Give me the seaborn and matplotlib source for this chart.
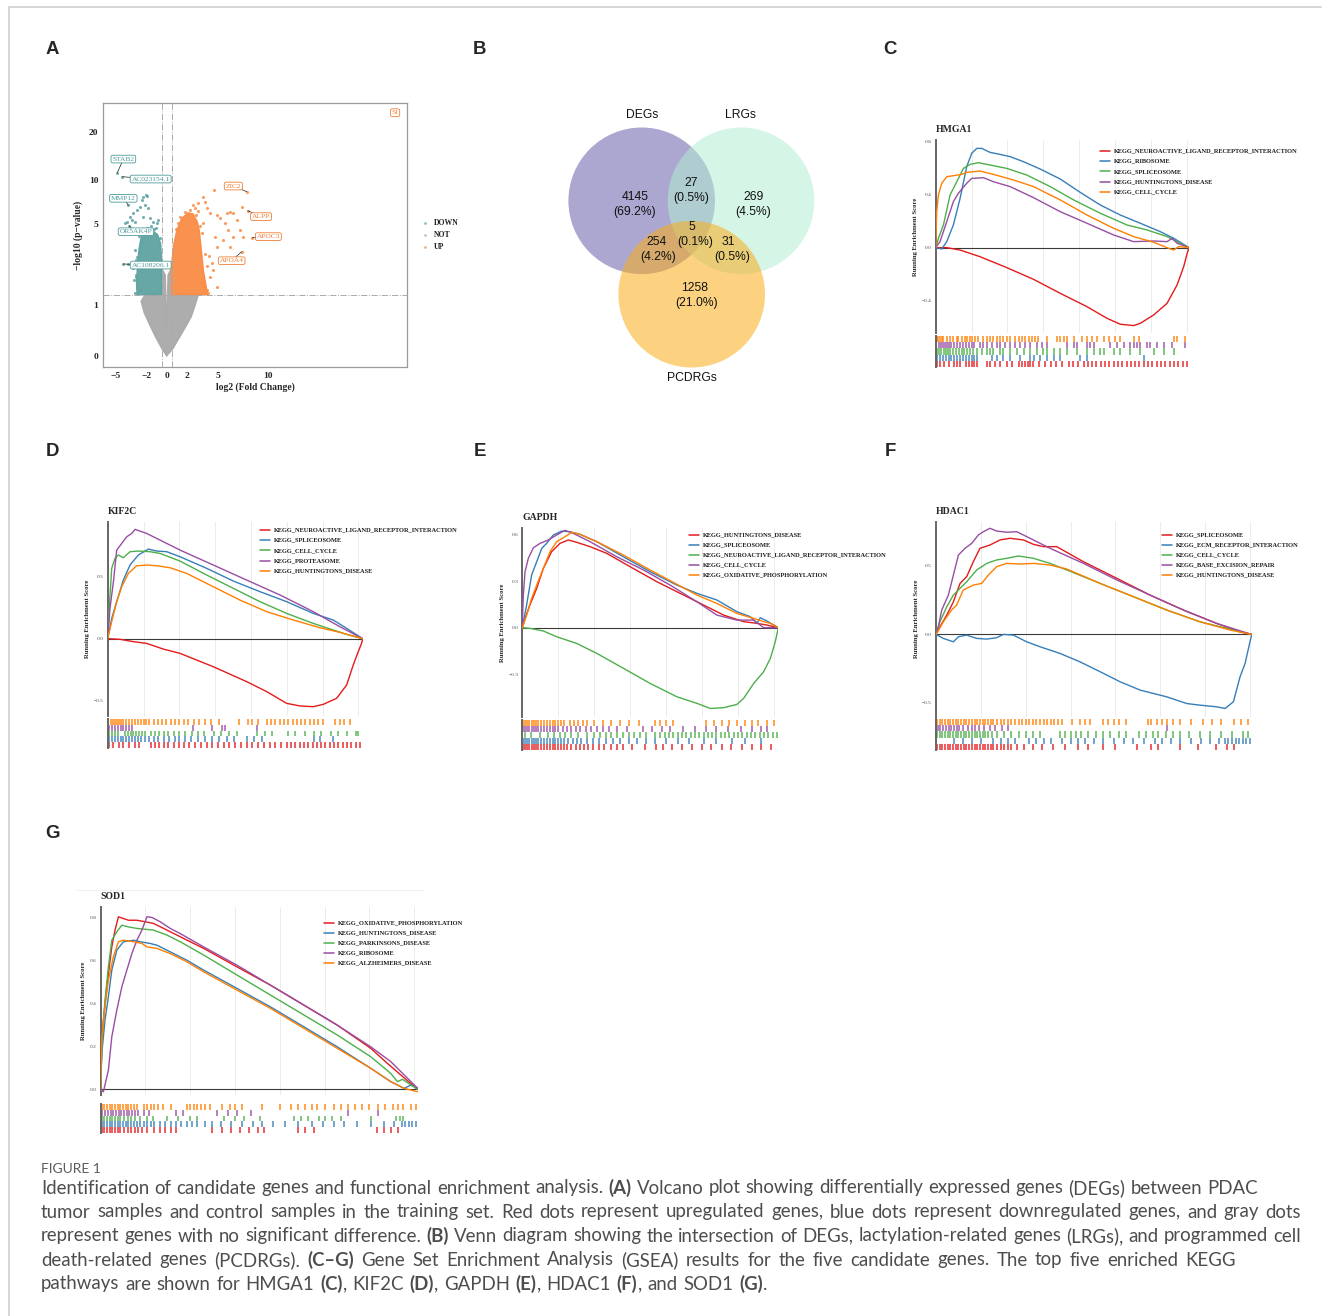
import numpy as np
import pandas as pd
import matplotlib
matplotlib.use("Agg")
import matplotlib.pyplot as plt
import seaborn as sns
from matplotlib.patches import Circle
from matplotlib.lines import Line2D
from matplotlib.ticker import NullLocator

# ---------------------------------------------------------------- data
# Panel A: volcano plot (log2FC, -log10 p)
VOLC_NOT_CLOUD_X = [0.0, 0.6, 1.3, 1.9, 2.4, 2.8, 3.1, 0.5, 0.5, 0.15, 0.08, 0.03, -0.03, -0.08, -0.15,
                    -0.5, -0.5, -2.1, -2.5, -2.2, -1.6, -1.1, -0.45, 0.0]
VOLC_NOT_CLOUD_Y = [0.0, 0.1, 0.3, 0.5, 0.7, 1.0, 1.3, 1.3, 2.3, 2.0, 1.0, 0.45, 0.45, 1.0, 2.0,
                    2.3, 1.3, 1.3, 1.1, 0.8, 0.5, 0.3, 0.1, 0.0]
VOLC_DOWN_CLOUD_X = [-0.5, -2.9, -2.95, -2.85, -2.7, -2.5, -2.1, -1.4, -0.9, -0.6, -0.5]
VOLC_DOWN_CLOUD_Y = [1.3, 1.3, 1.7, 2.5, 3.3, 4.0, 4.4, 4.5, 4.2, 3.6, 2.5]
VOLC_UP_CLOUD_X = [0.5, 0.5, 0.7, 1.0, 1.5, 2.1, 2.6, 3.0, 3.2, 3.4, 3.6, 3.9, 4.0]
VOLC_UP_CLOUD_Y = [1.3, 2.5, 3.5, 4.5, 5.5, 6.0, 5.9, 5.2, 4.5, 3.2, 2.2, 1.5, 1.3]
VOLC_DOWN_X = [-4.85, -4.36, -2.30, -2.03, -1.90, -2.46, -2.62, -2.13, -1.80, -2.95, -3.28, -3.77, -3.61,
               -3.44, -3.11, -2.30, -1.64, -1.31, -0.98, -0.82, -3.93, -3.67, -4.10, -3.34, -4.26, -3.77,
               -3.11, -2.95, -3.02, -2.89, -2.62, -3.08, -3.0, -3.2, -2.6, -1.9, -1.2, -0.7, -3.3, -2.4,
               -2.75, -1.55, -1.05, -3.05]
VOLC_DOWN_Y = [11.12, 10.48, 7.74, 7.94, 7.82, 7.35, 6.56, 6.80, 6.46, 6.29, 5.96, 6.80, 5.66,
               5.36, 5.22, 5.66, 5.51, 5.22, 5.08, 5.36, 5.22, 4.86, 5.08, 4.55, 2.49, 2.47,
               3.22, 2.86, 1.94, 1.56, 1.45, 1.34, 2.0, 1.8, 4.3, 4.7, 4.6, 4.0, 2.3, 3.7,
               4.1, 4.9, 4.7, 2.7]
VOLC_UP_X = [4.66, 3.61, 3.77, 3.93, 3.11, 2.62, 4.26, 4.92, 5.25, 5.90, 6.23, 6.56, 6.89, 7.38, 7.87,
             7.97, 8.43, 7.38, 6.07, 6.56, 5.57, 4.92, 5.25, 4.59, 4.26, 4.92, 3.93, 4.43, 5.74, 3.61,
             6.23, 7.21, 7.54, 4.75, 3.44, 4.10, 0.9, 1.3, 2.3, 2.9, 3.5, 3.8, 4.0, 3.7, 1.8, 2.8,
             1.1, 3.3, 4.2, 3.1]
VOLC_UP_Y = [8.57, 7.74, 7.17, 6.46, 6.98, 6.80, 5.96, 5.81, 5.51, 5.96, 6.13, 5.96, 5.36, 6.63, 8.36,
             6.22, 4.00, 3.13, 4.55, 4.07, 3.84, 3.42, 2.69, 2.22, 1.94, 1.56, 1.45, 2.52, 5.08, 5.08,
             3.42, 4.55, 4.07, 4.07, 1.68, 1.34, 4.6, 5.6, 6.3, 5.8, 4.3, 3.0, 2.4, 1.6, 6.1, 6.5,
             5.1, 4.9, 2.9, 6.2]
LAB_GENES = ["STAB2", "AC023154.1", "MMP12", "OR5AK4P", "AC108206.1", "ZIC2", "ALPP", "APOC3", "APOA4", "SI"]
LAB_GROUP = ["DOWN", "DOWN", "DOWN", "DOWN", "DOWN", "UP", "UP", "UP", "UP", "UP"]
LAB_PT_X = [-4.85, -4.36, -3.77, -3.67, -4.26, 7.87, 7.97, 8.43, 7.38, 22.46]
LAB_PT_Y = [11.12, 10.48, 6.80, 4.86, 2.49, 8.36, 6.22, 4.00, 3.13, 26.5]
LAB_TX = [-4.26, -1.57, -4.26, -3.02, -1.57, 6.56, 9.28, 10.0, 6.39, 22.46]
LAB_TY = [13.6, 10.12, 7.55, 4.42, 2.44, 9.11, 5.66, 4.07, 2.65, 26.5]
VOLC_XTICKS = [-5, -2, 0, 2, 5, 10]
VOLC_YTICKS = [0, 1, 5, 10, 20]
FC_CUT = 0.5
P_CUT = 1.301

# Panel B: Venn diagram
VENN_SETS = ["DEGs", "LRGs", "PCDRGs"]
VENN_REGIONS = ["DEGs", "LRGs", "PCDRGs", "DEGs&LRGs", "DEGs&PCDRGs", "LRGs&PCDRGs", "all"]
VENN_COUNTS = [4145, 269, 1258, 27, 254, 31, 5]

# Panels C-G: GSEA running enrichment scores (rank in thousands)
HMGA1_PATHS = ["KEGG_NEUROACTIVE_LIGAND_RECEPTOR_INTERACTION", "KEGG_RIBOSOME", "KEGG_SPLICEOSOME",
               "KEGG_HUNTINGTONS_DISEASE", "KEGG_CELL_CYCLE"]
HMGA1_RANK = [
    [0, 0.77, 1.70, 3.09, 4.95, 6.82, 8.68, 10.54, 11.93, 12.86, 13.79, 14.26, 15.19, 16.12, 16.82, 17.28, 17.52, 17.65],
    [0, 0.42, 0.77, 1.23, 1.70, 2.16, 2.51, 2.86, 3.21, 3.79, 4.49, 5.19, 6.12, 7.28, 8.68, 10.07, 11.47, 12.86, 14.26, 15.65, 16.59, 17.65],
    [0, 0.19, 0.54, 1.0, 1.47, 1.93, 2.40, 2.98, 3.79, 4.95, 6.35, 7.98, 9.61, 11.47, 13.33, 14.72, 16.12, 17.65],
    [0, 0.30, 0.77, 1.23, 1.58, 2.16, 2.51, 3.33, 4.02, 5.19, 6.82, 8.68, 10.54, 12.40, 13.79, 15.19, 16.12, 16.47, 16.82, 17.65],
    [0, 0.07, 0.19, 0.42, 0.77, 1.23, 1.81, 2.16, 3.09, 4.02, 5.42, 6.82, 8.68, 10.54, 12.40, 13.79, 15.19, 16.12, 16.58, 16.93, 17.65]]
HMGA1_ES = [
    [0, 0, -0.018, -0.068, -0.15, -0.238, -0.343, -0.443, -0.53, -0.575, -0.585, -0.568, -0.505, -0.418, -0.28, -0.143, -0.043, 0],
    [0, -0.01, 0.045, 0.17, 0.37, 0.608, 0.708, 0.745, 0.745, 0.715, 0.70, 0.683, 0.645, 0.59, 0.515, 0.415, 0.32, 0.245, 0.183, 0.12, 0.07, 0],
    [0, 0.07, 0.17, 0.395, 0.495, 0.595, 0.625, 0.638, 0.62, 0.595, 0.545, 0.458, 0.358, 0.258, 0.17, 0.133, 0.083, 0],
    [0, 0.045, 0.195, 0.345, 0.408, 0.483, 0.52, 0.525, 0.495, 0.458, 0.375, 0.27, 0.183, 0.095, 0.045, 0.05, 0.045, 0.07, 0.033, 0],
    [0, 0.27, 0.395, 0.483, 0.533, 0.54, 0.55, 0.565, 0.575, 0.55, 0.508, 0.458, 0.358, 0.245, 0.145, 0.083, 0.04, 0, -0.018, 0.008, 0]]
HMGA1_HITS = [
    [0.1, 0.3, 0.6, 0.9, 1.3, 1.5, 1.7, 2.1, 2.3, 2.5, 2.7, 2.9, 3.56, 3.79, 4.14, 4.49, 4.95, 5.31, 5.8, 6.0, 6.2, 6.4,
     6.6, 6.8, 7.2, 7.6, 8.0, 8.4, 8.8, 9.3, 9.6, 9.9, 10.3, 10.6, 10.9, 11.2, 11.5, 11.8, 12.1, 12.4, 12.7, 13.0, 13.3,
     13.6, 13.9, 14.2, 14.5, 14.8, 15.1, 15.4, 15.7, 16.0, 16.3, 16.6, 16.9, 17.2, 17.5],
    [0.1, 0.3, 0.5, 0.7, 0.9, 1.1, 1.3, 1.5, 1.7, 1.9, 2.1, 2.3, 2.5, 2.7, 2.9, 3.91, 4.26, 4.72, 5.19, 5.89, 6.58, 6.82,
     7.28, 7.75, 8.21, 8.68, 10.07, 10.54, 14.49],
    [0.1, 0.25, 0.4, 0.55, 0.7, 0.85, 1.0, 1.2, 1.4, 1.6, 1.8, 2.0, 2.2, 2.4, 2.6, 2.86, 3.21, 3.56, 3.79, 4.02, 4.49,
     4.72, 5.19, 5.66, 6.12, 6.58, 7.05, 7.51, 7.75, 8.21, 8.68, 9.14, 9.84, 10.54, 11.0, 11.47, 11.7, 12.4, 12.86,
     13.56, 14.26, 15.19, 15.89, 16.58],
    [0.05, 0.2, 0.35, 0.5, 0.65, 0.8, 0.95, 1.1, 1.3, 1.5, 1.7, 1.9, 2.1, 2.3, 2.5, 2.7, 3.09, 3.33, 3.56, 3.91, 4.26,
     4.49, 4.84, 5.19, 5.54, 5.89, 6.23, 6.58, 7.05, 7.4, 7.75, 9.14, 9.61, 9.84, 10.54, 10.77, 11.0, 12.16, 12.63,
     13.1, 13.56, 13.79, 14.03, 14.26, 14.72, 14.96, 15.42, 15.89, 16.47, 17.4],
    [0.07, 0.19, 0.30, 0.42, 0.53, 0.77, 1.0, 1.23, 1.47, 1.58, 1.81, 2.05, 2.16, 2.4, 2.51, 2.74, 2.98, 3.33, 3.56,
     3.79, 4.02, 4.26, 4.49, 4.72, 4.95, 5.19, 5.54, 5.77, 6.0, 6.23, 6.47, 6.7, 6.93, 7.16, 7.75, 8.44, 8.68, 8.91,
     9.14, 9.61, 10.19, 10.54, 10.89, 11.23, 11.7, 12.05, 12.51, 12.86, 13.79, 14.14, 16.58, 16.82, 17.4]]

KIF2C_PATHS = ["KEGG_NEUROACTIVE_LIGAND_RECEPTOR_INTERACTION", "KEGG_SPLICEOSOME", "KEGG_CELL_CYCLE",
               "KEGG_PROTEASOME", "KEGG_HUNTINGTONS_DISEASE"]
KIF2C_RANK = [
    [0, 0.86, 1.79, 2.72, 3.88, 5.05, 7.37, 9.70, 11.10, 12.49, 13.42, 14.35, 15.05, 15.98, 16.68, 17.14, 17.49, 17.72, 17.8],
    [0, 0.28, 0.63, 1.09, 1.56, 2.14, 2.84, 3.42, 4.12, 5.05, 6.91, 8.77, 10.63, 12.49, 14.35, 15.75, 16.68, 17.8],
    [0, 0.12, 0.28, 0.51, 0.74, 1.09, 1.56, 2.14, 2.95, 3.65, 5.05, 6.91, 8.77, 10.63, 12.49, 14.35, 15.75, 16.68, 17.8],
    [0, 0.16, 0.40, 0.63, 0.98, 1.33, 1.68, 1.91, 2.72, 5.05, 7.37, 9.70, 12.03, 14.35, 16.21, 17.8],
    [0, 0.28, 0.63, 0.98, 1.44, 2.02, 2.72, 3.42, 4.35, 5.51, 7.37, 9.23, 11.10, 12.96, 14.82, 16.21, 17.8]]
KIF2C_ES = [
    [0, -0.005, -0.024, -0.038, -0.084, -0.119, -0.227, -0.348, -0.429, -0.524, -0.545, -0.551, -0.532, -0.483, -0.375, -0.213, -0.105, -0.038, 0],
    [0, 0.165, 0.30, 0.475, 0.597, 0.678, 0.726, 0.71, 0.705, 0.664, 0.57, 0.467, 0.381, 0.30, 0.205, 0.151, 0.084, 0],
    [0, 0.273, 0.57, 0.651, 0.678, 0.656, 0.705, 0.71, 0.705, 0.691, 0.629, 0.516, 0.408, 0.30, 0.205, 0.124, 0.07, 0.035, 0],
    [0, 0.246, 0.462, 0.718, 0.772, 0.826, 0.853, 0.886, 0.853, 0.718, 0.597, 0.475, 0.354, 0.219, 0.097, 0],
    [0, 0.138, 0.30, 0.421, 0.529, 0.591, 0.597, 0.591, 0.575, 0.529, 0.421, 0.313, 0.219, 0.151, 0.089, 0.051, 0]]
KIF2C_HITS = [
    [0.1, 0.4, 0.8, 1.1, 1.5, 1.9, 2.2, 3.0, 3.3, 3.6, 3.9, 4.2, 4.6, 5.0, 5.3, 5.7, 6.1, 6.5, 6.9, 7.3, 7.7, 8.1, 8.5,
     8.9, 9.3, 9.7, 10.1, 10.5, 10.9, 11.3, 11.7, 12.1, 12.5, 12.8, 13.1, 13.4, 13.7, 14.0, 14.3, 14.6, 14.9, 15.2,
     15.5, 15.8, 16.1, 16.4, 16.7, 17.0, 17.3, 17.6],
    [0.1, 0.3, 0.5, 0.7, 0.9, 1.1, 1.3, 1.5, 1.7, 1.9, 2.1, 2.3, 2.6, 2.9, 3.2, 3.5, 3.9, 4.3, 4.7, 5.0, 5.4, 5.8, 6.3,
     6.8, 7.3, 7.8, 8.3, 8.8, 9.7, 10.2, 10.8, 14.4, 14.8, 15.7],
    [0.1, 0.3, 0.5, 0.7, 1.2, 1.4, 1.6, 1.8, 2.0, 2.2, 2.4, 2.6, 3.0, 3.3, 3.6, 3.9, 4.2, 4.6, 5.0, 5.4, 5.9, 6.3, 6.7,
     7.4, 7.9, 8.5, 9.0, 10.4, 11.0, 11.5, 12.6, 13.1, 13.8, 14.4, 14.9, 15.6, 16.1, 16.7, 17.3, 17.5],
    [0.1, 0.3, 0.5, 0.7, 0.9, 1.1, 1.3, 1.5, 1.7, 5.98, 7.26, 7.95, 8.19, 10.4],
    [0.05, 0.2, 0.35, 0.5, 0.65, 0.8, 0.95, 1.1, 1.3, 1.5, 1.7, 1.9, 2.1, 2.3, 2.5, 2.7, 2.9, 3.2, 3.5, 3.8, 4.1, 4.4,
     4.7, 5.0, 5.3, 5.6, 6.0, 6.4, 6.8, 7.2, 7.8, 9.2, 9.8, 10.1, 10.5, 11.1, 11.4, 11.7, 12.0, 12.3, 12.6, 12.9,
     13.2, 13.5, 13.8, 14.1, 14.4, 14.7, 15.0, 15.9, 16.2, 16.5, 16.9]]

GAPDH_PATHS = ["KEGG_HUNTINGTONS_DISEASE", "KEGG_SPLICEOSOME", "KEGG_NEUROACTIVE_LIGAND_RECEPTOR_INTERACTION",
               "KEGG_CELL_CYCLE", "KEGG_OXIDATIVE_PHOSPHORYLATION"]
GAPDH_RANK = [
    [0, 0.19, 0.53, 1.00, 1.46, 2.04, 2.62, 3.20, 3.78, 4.71, 5.87, 7.50, 9.35, 11.21, 12.60, 14.00, 15.39, 16.32, 17.01, 17.8],
    [0, 0.30, 0.65, 1.00, 1.35, 1.69, 2.16, 2.74, 3.32, 4.02, 5.18, 7.03, 8.89, 10.75, 12.14, 13.53, 14.92, 15.85, 16.32, 16.55, 17.01, 17.8],
    [0, 0.53, 1.46, 2.39, 3.78, 5.18, 7.03, 8.89, 10.75, 12.14, 13.07, 14.00, 14.92, 15.39, 16.09, 16.78, 17.25, 17.59, 17.8],
    [0, 0.07, 0.19, 0.42, 0.77, 1.23, 1.81, 2.39, 2.97, 3.55, 4.71, 6.57, 8.43, 10.28, 12.14, 13.53, 14.92, 16.09, 16.78, 17.8],
    [0, 0.30, 0.65, 1.00, 1.46, 1.93, 2.39, 2.97, 3.44, 4.02, 5.18, 7.03, 8.89, 10.75, 12.14, 13.53, 14.92, 16.09, 16.78, 17.25, 17.8]]
GAPDH_ES = [
    [0, 0.06, 0.146, 0.253, 0.381, 0.489, 0.542, 0.564, 0.549, 0.521, 0.478, 0.392, 0.296, 0.21, 0.146, 0.081, 0.039, 0.028, 0.017, 0],
    [0, 0.146, 0.339, 0.424, 0.51, 0.542, 0.596, 0.621, 0.617, 0.60, 0.553, 0.456, 0.36, 0.274, 0.221, 0.178, 0.103, 0.071, 0.028, 0.064, 0.043, 0],
    [0, -0.004, -0.021, -0.058, -0.101, -0.165, -0.261, -0.358, -0.444, -0.486, -0.519, -0.514, -0.493, -0.454, -0.358, -0.283, -0.197, -0.09, 0],
    [0, 0.21, 0.36, 0.446, 0.514, 0.542, 0.564, 0.596, 0.626, 0.606, 0.553, 0.456, 0.371, 0.274, 0.167, 0.081, 0.049, 0.049, 0, 0],
    [0, 0.081, 0.189, 0.274, 0.381, 0.489, 0.553, 0.585, 0.613, 0.60, 0.553, 0.467, 0.371, 0.279, 0.21, 0.156, 0.092, 0.06, 0.039, 0.028, 0]]
GAPDH_HITS = [
    [0.05, 0.2, 0.35, 0.5, 0.65, 0.8, 0.95, 1.1, 1.3, 1.5, 1.7, 1.9, 2.1, 2.3, 2.5, 2.7, 2.9, 3.1, 3.4, 3.7, 4.0, 4.3,
     4.6, 4.9, 5.3, 5.7, 6.2, 6.6, 7.0, 7.6, 8.5, 9.3, 9.8, 10.4, 11.1, 11.8, 12.5, 13.1, 13.9, 14.5, 15.3, 16.0,
     16.6, 17.3],
    [0.05, 0.2, 0.35, 0.5, 0.65, 0.8, 0.95, 1.1, 1.3, 1.5, 1.7, 1.9, 2.1, 2.3, 2.5, 2.7, 2.9, 3.2, 3.5, 3.8, 4.1, 4.5,
     4.9, 5.3, 5.8, 6.3, 6.8, 7.4, 8.0, 8.6, 9.2, 10.0, 10.8, 11.6, 12.6, 13.5, 14.6, 15.5, 16.6],
    [0.2, 0.6, 1.2, 1.8, 2.2, 2.6, 3.0, 3.4, 3.9, 4.5, 5.0, 5.4, 5.8, 6.2, 6.6, 7.0, 7.4, 7.8, 8.2, 8.6, 9.2, 9.6, 9.9,
     10.2, 10.5, 10.8, 11.1, 11.4, 11.7, 12.0, 12.3, 12.6, 12.9, 13.2, 13.5, 13.8, 14.1, 14.4, 14.7, 15.0, 15.3,
     15.6, 15.9, 16.2, 16.5, 16.8, 17.1, 17.4, 17.7],
    [0.05, 0.2, 0.35, 0.5, 0.65, 0.8, 0.95, 1.1, 1.3, 1.5, 1.7, 1.9, 2.1, 2.3, 2.5, 2.8, 3.1, 3.4, 3.7, 4.0, 4.4, 4.8,
     5.2, 5.6, 6.0, 6.6, 7.3, 8.4, 9.0, 9.7, 10.3, 11.2, 12.0, 12.8, 13.5, 14.3, 15.2, 16.0, 16.6, 17.0],
    [0.05, 0.2, 0.35, 0.5, 0.65, 0.8, 0.95, 1.1, 1.3, 1.5, 1.7, 1.9, 2.1, 2.3, 2.5, 2.7, 2.9, 3.3, 3.6, 3.9, 4.2, 4.5,
     5.0, 5.6, 6.2, 6.8, 7.4, 8.1, 9.2, 9.6, 10.0, 10.5, 12.8, 13.3, 13.9, 14.4, 14.9, 15.5, 16.0, 16.4, 17.0, 17.5]]

HDAC1_PATHS = ["KEGG_SPLICEOSOME", "KEGG_ECM_RECEPTOR_INTERACTION", "KEGG_CELL_CYCLE",
               "KEGG_BASE_EXCISION_REPAIR", "KEGG_HUNTINGTONS_DISEASE"]
HDAC1_RANK = [
    [0, 0.22, 0.60, 0.97, 1.34, 1.71, 2.08, 2.45, 3.01, 3.57, 4.13, 4.87, 5.43, 5.99, 6.73, 8.22, 10.08, 11.93, 13.79, 15.65, 16.95, 17.6],
    [0, 0.41, 0.97, 1.25, 1.71, 2.27, 2.83, 3.38, 3.76, 4.31, 5.06, 5.80, 6.92, 8.03, 9.15, 10.26, 11.38, 12.86, 13.98, 14.72, 15.65, 16.12, 16.58, 16.95, 17.23, 17.42, 17.6],
    [0, 0.22, 0.60, 0.97, 1.34, 1.71, 2.27, 2.83, 3.38, 3.94, 4.59, 5.43, 6.36, 7.29, 9.15, 11.01, 12.86, 14.72, 16.21, 17.6],
    [0, 0.13, 0.32, 0.69, 0.97, 1.25, 1.62, 1.99, 2.36, 2.64, 3.01, 3.38, 3.94, 4.50, 5.06, 6.36, 8.22, 10.08, 11.93, 13.79, 15.65, 17.6],
    [0, 0.41, 0.87, 1.15, 1.52, 2.08, 2.55, 2.92, 3.38, 3.94, 4.69, 5.43, 6.36, 7.29, 9.15, 11.01, 12.86, 14.72, 16.40, 17.6]]
HDAC1_ES = [
    [0, 0.056, 0.141, 0.238, 0.372, 0.421, 0.53, 0.628, 0.652, 0.689, 0.701, 0.689, 0.657, 0.64, 0.64, 0.53, 0.409, 0.287, 0.178, 0.08, 0.019, 0],
    [0, -0.029, -0.054, -0.017, -0.005, -0.029, -0.034, -0.024, 0, -0.005, -0.054, -0.09, -0.139, -0.20, -0.272, -0.345, -0.406, -0.455, -0.504, -0.516, -0.528, -0.54, -0.491, -0.309, -0.212, -0.102, 0],
    [0, 0.092, 0.202, 0.287, 0.336, 0.384, 0.47, 0.518, 0.543, 0.555, 0.572, 0.555, 0.518, 0.47, 0.372, 0.275, 0.178, 0.092, 0.044, 0],
    [0, 0.056, 0.178, 0.287, 0.433, 0.579, 0.628, 0.664, 0.725, 0.749, 0.774, 0.754, 0.745, 0.749, 0.713, 0.628, 0.518, 0.397, 0.287, 0.178, 0.08, 0],
    [0, 0.092, 0.178, 0.214, 0.324, 0.36, 0.372, 0.433, 0.494, 0.518, 0.513, 0.518, 0.506, 0.477, 0.372, 0.275, 0.178, 0.092, 0.032, 0]]
HDAC1_HITS = [
    [0.05, 0.2, 0.35, 0.5, 0.65, 0.8, 0.95, 1.1, 1.25, 1.4, 1.55, 1.7, 1.85, 2.0, 2.15, 2.3, 2.45, 2.6, 2.75, 2.9,
     3.05, 3.2, 3.4, 3.6, 3.8, 4.0, 4.2, 4.5, 4.9, 5.4, 5.9, 6.5, 7.2, 7.9, 8.5, 9.3, 10.0, 11.2, 12.0, 12.4, 13.6,
     14.6, 15.6, 16.2, 16.6],
    [1.0, 1.5, 2.0, 2.5, 3.2, 3.6, 4.0, 4.4, 5.2, 5.6, 6.0, 6.4, 7.0, 7.5, 7.9, 8.3, 8.8, 9.3, 9.9, 10.5, 11.0, 11.6,
     12.2, 12.6, 13.1, 13.6, 14.2, 14.8, 15.3, 15.8, 16.1, 16.3, 16.5, 16.7, 16.9, 17.1, 17.3, 17.5],
    [0.05, 0.2, 0.35, 0.5, 0.65, 0.8, 0.95, 1.1, 1.25, 1.4, 1.55, 1.7, 1.85, 2.0, 2.15, 2.3, 2.45, 2.6, 2.75, 2.9, 3.1,
     3.4, 3.8, 4.2, 4.6, 5.0, 5.4, 5.8, 6.9, 7.2, 7.5, 7.8, 8.1, 8.5, 8.9, 9.3, 9.7, 10.2, 10.6, 11.3, 11.7, 12.1,
     12.4, 12.8, 13.2, 13.6, 14.1, 14.7, 15.3, 15.9, 16.5, 17.1, 17.4],
    [0.1, 0.25, 0.4, 0.55, 0.7, 0.85, 1.0, 1.15, 1.3, 1.5, 1.8, 2.0, 2.2, 2.4, 2.7, 3.0, 3.3, 3.7, 4.0, 12.9],
    [0.05, 0.2, 0.35, 0.5, 0.65, 0.8, 0.95, 1.1, 1.25, 1.4, 1.55, 1.7, 1.85, 2.0, 2.15, 2.3, 2.45, 2.6, 2.75, 2.9,
     3.05, 3.2, 3.4, 3.6, 3.8, 4.0, 4.2, 4.4, 4.6, 4.8, 5.0, 5.2, 5.4, 5.6, 5.8, 6.0, 6.2, 6.4, 6.6, 6.8, 7.0, 7.6,
     8.0, 8.3, 8.6, 9.3, 9.6, 9.9, 10.2, 10.6, 11.8, 12.0, 12.3, 12.6, 12.9, 13.2, 13.6, 14.2, 14.9, 15.4, 15.9,
     16.6, 17.0, 17.4]]

SOD1_PATHS = ["KEGG_OXIDATIVE_PHOSPHORYLATION", "KEGG_HUNTINGTONS_DISEASE", "KEGG_PARKINSONS_DISEASE",
              "KEGG_RIBOSOME", "KEGG_ALZHEIMERS_DISEASE"]
SOD1_RANK = [
    [0, 0.06, 0.15, 0.34, 0.62, 0.80, 0.99, 1.27, 1.55, 2.02, 2.48, 2.95, 3.51, 4.25, 5.75, 7.61, 9.48, 11.35, 13.21, 15.08, 16.01, 16.76, 17.7],
    [0, 0.06, 0.24, 0.43, 0.62, 0.90, 1.27, 1.83, 2.20, 2.76, 3.14, 3.88, 4.81, 5.75, 7.61, 9.48, 11.35, 13.21, 15.08, 16.20, 16.94, 17.32, 17.7],
    [0, 0.07, 0.24, 0.43, 0.62, 0.90, 1.18, 1.55, 2.02, 2.95, 3.70, 4.44, 5.75, 7.61, 9.48, 11.35, 13.21, 15.08, 16.20, 16.57, 16.85, 17.7],
    [0, 0.15, 0.30, 0.43, 0.62, 0.90, 1.18, 1.46, 1.74, 2.02, 2.30, 2.58, 2.86, 3.32, 3.88, 4.44, 5.75, 7.61, 9.48, 11.35, 13.21, 15.08, 16.20, 17.7],
    [0, 0.06, 0.24, 0.43, 0.71, 0.99, 1.27, 1.83, 2.30, 2.58, 3.14, 3.88, 4.81, 5.75, 7.61, 9.48, 11.35, 13.21, 15.08, 16.20, 16.94, 17.7]]
SOD1_ES = [
    [0, 0.198, 0.322, 0.477, 0.663, 0.741, 0.803, 0.795, 0.787, 0.787, 0.78, 0.772, 0.749, 0.718, 0.656, 0.570, 0.485, 0.392, 0.299, 0.191, 0.121, 0.067, 0],
    [0, 0.167, 0.322, 0.431, 0.555, 0.648, 0.687, 0.694, 0.687, 0.679, 0.671, 0.640, 0.601, 0.555, 0.470, 0.384, 0.291, 0.198, 0.098, 0.036, 0.005, 0.02, 0.005],
    [0, 0.229, 0.415, 0.570, 0.694, 0.733, 0.764, 0.756, 0.749, 0.741, 0.718, 0.687, 0.625, 0.532, 0.439, 0.346, 0.253, 0.152, 0.074, 0.036, 0.047, 0],
    [0, -0.011, 0.043, 0.090, 0.245, 0.369, 0.477, 0.555, 0.632, 0.694, 0.741, 0.803, 0.80, 0.780, 0.749, 0.725, 0.663, 0.578, 0.485, 0.392, 0.299, 0.198, 0.129, 0.005],
    [0, 0.229, 0.384, 0.508, 0.617, 0.687, 0.694, 0.687, 0.679, 0.663, 0.656, 0.632, 0.594, 0.547, 0.462, 0.377, 0.284, 0.191, 0.098, 0.036, 0.005, -0.011]]
SOD1_HITS = [
    [0.05, 0.2, 0.35, 0.5, 0.65, 0.8, 0.95, 1.1, 1.3, 1.5, 1.7, 1.9, 2.1, 2.3, 2.6, 3.0, 3.3, 3.6, 3.9, 4.2, 6.2, 6.8,
     7.3, 7.8, 8.3, 8.8, 9.1, 11.0, 11.4, 11.9, 15.4, 15.8, 16.2, 16.6],
    [0.05, 0.2, 0.35, 0.5, 0.65, 0.8, 0.95, 1.1, 1.25, 1.4, 1.55, 1.7, 1.85, 2.0, 2.2, 2.4, 2.6, 2.8, 3.0, 3.3, 3.6,
     3.9, 4.2, 4.5, 4.8, 5.1, 5.4, 5.8, 6.2, 6.7, 7.3, 7.9, 8.5, 9.0, 9.6, 10.3, 11.0, 11.8, 12.4, 13.0, 13.6, 14.3,
     15.1, 15.8, 16.4, 16.8, 17.0, 17.2, 17.4, 17.6],
    [0.05, 0.2, 0.35, 0.5, 0.65, 0.8, 0.95, 1.1, 1.3, 1.5, 1.7, 1.9, 2.2, 2.6, 2.9, 3.7, 4.3, 5.0, 5.4, 6.9, 7.5, 8.0,
     8.9, 10.8, 11.2, 11.6, 12.2, 12.5, 12.9, 13.4, 15.1, 16.5, 16.7, 16.9],
    [0.1, 0.25, 0.4, 0.55, 0.7, 0.85, 1.0, 1.15, 1.3, 1.45, 1.6, 1.75, 1.9, 2.1, 2.4, 2.7, 4.2, 4.6, 6.5, 7.1, 7.6,
     8.4, 13.8, 15.5],
    [0.05, 0.2, 0.35, 0.5, 0.65, 0.8, 0.95, 1.1, 1.25, 1.4, 1.55, 1.7, 1.85, 2.0, 2.4, 2.6, 2.8, 3.0, 3.2, 3.5, 3.9,
     4.8, 5.0, 5.2, 5.4, 5.6, 5.8, 6.1, 6.8, 7.2, 7.5, 7.9, 9.0, 10.0, 10.6, 11.0, 11.4, 11.8, 12.1, 12.5, 13.0,
     13.4, 13.8, 14.2, 14.6, 15.0, 15.5, 15.9, 16.3, 16.6, 16.9, 17.3, 17.6]]

CAPTION_TITLE = "FIGURE 1"
CAPTION_LINES = [
    "Identification of candidate genes and functional enrichment analysis. **(A)** Volcano plot showing differentially expressed genes (DEGs) between PDAC",
    "tumor samples and control samples in the training set. Red dots represent upregulated genes, blue dots represent downregulated genes, and gray dots",
    "represent genes with no significant difference. **(B)** Venn diagram showing the intersection of DEGs, lactylation-related genes (LRGs), and programmed cell",
    "death-related genes (PCDRGs). **(C–G)** Gene Set Enrichment Analysis (GSEA) results for the five candidate genes. The top five enriched KEGG",
    "pathways are shown for HMGA1 **(C)**, KIF2C **(D)**, GAPDH **(E)**, HDAC1 **(F)**, and SOD1 **(G)**.",
]

# ---------------------------------------------------------------- style
W, H = 1331, 1316
sns.set_theme(style="white")
SERIF = ["Liberation Serif", "DejaVu Serif"]
SANS = ["Liberation Sans", "DejaVu Sans"]
plt.rcParams["font.family"] = SERIF
plt.rcParams["axes.unicode_minus"] = True

SET1 = ["#E41A1C", "#377EB8", "#4DAF4A", "#984EA3", "#FF7F00"]
C_DOWN, C_NOT, C_UP = "#5FA3A2", "#A9A9A9", "#FA8C45"
T_DOWN, T_UP = "#4E9A9A", "#F07F35"

fig = plt.figure(figsize=(W / 100, H / 100), dpi=100)
fig.patch.set_facecolor("white")


def ax_px(l, t, r, b):
    return fig.add_axes([l / W, 1 - b / H, (r - l) / W, (b - t) / H])


def fx(px):
    return px / W


def fy(py):
    return 1 - py / H


# frame
fig.add_artist(Line2D([fx(9), fx(1321)], [fy(7), fy(7)], color="#cfcfcf", lw=1.2))
fig.add_artist(Line2D([fx(9), fx(9)], [fy(7), fy(1316)], color="#cfcfcf", lw=1.2))

# panel letters
for lab, (px, py) in zip("ABCDEFG", [(52, 49), (480, 49), (890, 49), (52, 452), (480, 452), (890, 452), (52, 834)]):
    fig.text(fx(px), fy(py), lab, fontsize=13.4, fontweight="bold", family=SANS, ha="center", va="center")

# ---------------------------------------------------------------- A: volcano
axA = ax_px(103.3, 102.7, 406.7, 367.3)
axA.set_yscale("function", functions=(np.log1p, np.expm1))
axA.fill(VOLC_NOT_CLOUD_X, VOLC_NOT_CLOUD_Y, color=C_NOT, lw=1.2, ec=C_NOT, alpha=0.95, zorder=1)
axA.fill(VOLC_DOWN_CLOUD_X, VOLC_DOWN_CLOUD_Y, color=C_DOWN, lw=1.2, ec=C_DOWN, alpha=0.95, zorder=1)
axA.fill(VOLC_UP_CLOUD_X, VOLC_UP_CLOUD_Y, color=C_UP, lw=1.2, ec=C_UP, alpha=0.95, zorder=1)
sns.scatterplot(x=VOLC_DOWN_X, y=VOLC_DOWN_Y, color=C_DOWN, s=5, linewidth=0, alpha=0.85, ax=axA, zorder=2)
sns.scatterplot(x=VOLC_UP_X, y=VOLC_UP_Y, color=C_UP, s=5, linewidth=0, alpha=0.85, ax=axA, zorder=2)
axA.axvline(-FC_CUT, color="#aaaaaa", lw=0.7, ls="-.", zorder=3)
axA.axvline(FC_CUT, color="#aaaaaa", lw=0.7, ls="-.", zorder=3)
axA.axhline(P_CUT, color="#aaaaaa", lw=0.7, ls="-.", zorder=3)
axA.set_xlim(-6.23, 23.6)
axA.set_ylim(-0.147, 30.5)
axA.set_xticks(VOLC_XTICKS)
axA.set_yticks(VOLC_YTICKS)
axA.yaxis.set_minor_locator(NullLocator())
axA.set_xticklabels([f"{v}".replace("-", "\u2212") for v in VOLC_XTICKS])
axA.set_yticklabels([str(v) for v in VOLC_YTICKS])
axA.tick_params(axis="both", labelsize=6.8, length=2, width=0.5, pad=1.5, color="#333333")
for t in axA.get_xticklabels() + axA.get_yticklabels():
    t.set_fontweight("bold")
for s in axA.spines.values():
    s.set_color("#9a9a9a")
    s.set_linewidth(0.9)
axA.set_xlabel("log2 (Fold Change)", fontsize=6.9, fontweight="bold", labelpad=1.5)
axA.set_ylabel("\u2212log10 (p\u2212value)", fontsize=6.9, fontweight="bold", labelpad=4)
for g, grp, px_, py_, tx, ty in zip(LAB_GENES, LAB_GROUP, LAB_PT_X, LAB_PT_Y, LAB_TX, LAB_TY):
    col = T_DOWN if grp == "DOWN" else T_UP
    if g != "SI":
        axA.plot([px_, tx], [py_, ty], color="#222222", lw=0.5, zorder=4)
    axA.text(tx, ty, g, fontsize=5.4, color=col, ha="center", va="center", zorder=5,
             bbox=dict(boxstyle="round,pad=0.18,rounding_size=0.25", fc="white", ec=col, lw=0.6))
for i, (name, col) in enumerate(zip(["DOWN", "NOT", "UP"], [C_DOWN, C_NOT, C_UP])):
    yy = 223 + i * 12
    fig.add_artist(Line2D([fx(425)], [fy(yy)], marker="o", ms=2.0, color=col, mew=0, alpha=0.7))
    fig.text(fx(434), fy(yy), name, fontsize=5.6, fontweight="bold", va="center", ha="left")

# ---------------------------------------------------------------- B: venn
axB = ax_px(555, 100, 830, 390)
axB.set_xlim(555, 830)
axB.set_ylim(390, 100)
axB.axis("off")
VENN_CENTERS = [(641.7, 200.8), (741.0, 200.8), (691.7, 294.2)]
VENN_COLORS = ["#665FAB", "#B4EDD2", "#FBAD1A"]
for (cx, cy), col in zip(VENN_CENTERS, VENN_COLORS):
    axB.add_patch(Circle((cx, cy), 73.3, fc=col, ec="none", alpha=0.55))
for name, (px, py) in zip(VENN_SETS, [(641.7, 115), (741, 115), (691.7, 378.5)]):
    axB.text(px, py, name, fontsize=8.7, family=SANS, ha="center", va="center", color="#111111")
total = sum(VENN_COUNTS)
VENN_TXT_POS = [(635, 196.7, 635, 211.7), (753.3, 196.7, 753.3, 211.7), (695, 288.3, 696.7, 303.3),
                (691, 183.3, 691, 198.3), (656.7, 241.7, 658.3, 256.7), (728.3, 241.7, 731.7, 256.7),
                (691.7, 226.5, 695, 242.0)]
for cnt, (x1, y1, x2, y2) in zip(VENN_COUNTS, VENN_TXT_POS):
    axB.text(x1, y1, f"{cnt}", fontsize=8.7, family=SANS, ha="center", va="center", color="#111111")
    axB.text(x2, y2, f"({100 * cnt / total:.1f}%)", fontsize=8.7, family=SANS, ha="center", va="center",
             color="#111111")


# ---------------------------------------------------------------- GSEA panels
def gsea_panel(box, rug, n_max, ylim, yticks, title, paths, ranks, es, hits, leg_x, leg_y0, leg_gap=10.2):
    l, t, r, b = box
    ax = ax_px(l, t, r, b)
    df = pd.concat([pd.DataFrame({"rank": rk, "es": e, "path": p}) for p, rk, e in zip(paths, ranks, es)],
                   ignore_index=True)
    for v in np.arange(2.5, n_max, 2.5):
        ax.axvline(v, color="#ebebeb", lw=0.7, zorder=0)
    ax.axhline(0, color="#3a3a3a", lw=0.8, zorder=1)
    sns.lineplot(data=df, x="rank", y="es", hue="path", hue_order=paths, palette=SET1, sort=False,
                 estimator=None, lw=1.0, ax=ax, legend=False, zorder=3)
    ax.set_xlim(0, n_max)
    ax.set_ylim(*ylim)
    ax.set_xticks([])
    ax.set_yticks(yticks)
    ax.set_yticklabels([("%.1f" % v).replace("-", "\u2212") for v in yticks])
    ax.tick_params(axis="y", labelsize=3.9, length=1.5, width=0.5, pad=1.5, colors="#4d4d4d")
    for side in ["top", "right", "bottom"]:
        ax.spines[side].set_visible(False)
    ax.spines["left"].set_color("#666666")
    ax.spines["left"].set_linewidth(1.4)
    ax.set_xlabel("")
    ax.set_ylabel("Running Enrichment Score", fontsize=4.8, fontweight="bold", labelpad=2.5)
    ax.set_facecolor("none")
    fig.text(fx(l), fy(t - 10.5), title, fontsize=7, fontweight="bold", ha="left", va="center")
    for i, (p, col) in enumerate(zip(paths, SET1)):
        yy = leg_y0 + i * leg_gap
        fig.add_artist(Line2D([fx(leg_x), fx(leg_x + 10)], [fy(yy), fy(yy)], color=col, lw=1.1))
        fig.text(fx(leg_x + 14), fy(yy), p, fontsize=4.6, fontweight="bold", ha="left", va="center",
                 color="#1a1a1a")
    rt, rb = rug
    rax = ax_px(l, rt, r, rb)
    rax.set_xlim(0, n_max)
    rax.set_ylim(0, 5)
    for k in range(5):  # row 0 (bottom) = first pathway
        rax.vlines(hits[k], k, k + 1, color=SET1[k], lw=1.25, alpha=0.8)
    rax.set_xticks([])
    rax.set_yticks([])
    for side in ["top", "right", "bottom"]:
        rax.spines[side].set_visible(False)
    rax.spines["left"].set_color("#666666")
    rax.spines["left"].set_linewidth(1.4)
    rax.set_facecolor("none")
    return ax


gsea_panel((935.7, 140, 1189, 333.3), (336, 367), 17.65, (-0.643, 0.808), [-0.4, 0.0, 0.4, 0.8], "HMGA1",
           HMGA1_PATHS, HMGA1_RANK, HMGA1_ES, HMGA1_HITS, 1100, 151)
gsea_panel((107.7, 521.7, 362.7, 715.7), (719, 748), 17.8, (-0.624, 0.948), [-0.5, 0.0, 0.5], "KIF2C",
           KIF2C_PATHS, KIF2C_RANK, KIF2C_ES, KIF2C_HITS, 260, 530)
gsea_panel((522.3, 528.3, 778.3, 716.7), (720, 750), 17.8, (-0.572, 0.639), [-0.3, 0.0, 0.3, 0.6], "GAPDH",
           GAPDH_PATHS, GAPDH_RANK, GAPDH_ES, GAPDH_HITS, 689, 535, 10)
gsea_panel((936, 521.7, 1251.7, 716.7), (719, 750), 17.6, (-0.60, 0.822), [-0.5, 0.0, 0.5], "HDAC1",
           HDAC1_PATHS, HDAC1_RANK, HDAC1_ES, HDAC1_HITS, 1162, 535, 10)
gsea_panel((100.7, 906.7, 417.7, 1095), (1104, 1133), 17.7, (-0.026, 0.85), [0.0, 0.2, 0.4, 0.6, 0.8], "SOD1",
           SOD1_PATHS, SOD1_RANK, SOD1_ES, SOD1_HITS, 324, 923, 10)
fig.add_artist(Line2D([fx(77), fx(423)], [fy(890), fy(890)], color="#f0f0f0", lw=0.8))

# ---------------------------------------------------------------- caption
CAP_FONT = ["Lato", "DejaVu Sans"]
CAP_COLOR = "#4d4d4d"
fig.text(fx(41), fy(1169), CAPTION_TITLE, fontsize=10, color="#5c5c5c", family=CAP_FONT, ha="left", va="center")
renderer = fig.canvas.get_renderer()
LINE_Y = [1188, 1212, 1236, 1260, 1284]
LINE_END = [1258, 1301, 1301, 1236, 767]
probe = fig.text(0, 0, "", family=CAP_FONT)


def width_of(s, size, bold):
    probe.set_text(s)
    probe.set_fontsize(size)
    probe.set_fontweight("bold" if bold else "normal")
    return probe.get_window_extent(renderer).width


def split_words(line):
    out = []
    for w in line.split(" "):
        parts = w.split("**")
        out.append([(p, i % 2 == 1) for i, p in enumerate(parts) if p])
    return out


size = 14.0
while size > 9:
    ok = True
    for line, end in zip(CAPTION_LINES, LINE_END):
        words = split_words(line)
        tot = sum(width_of(p, size, b) for w in words for p, b in w)
        gap = (end - 41 - tot) / (len(words) - 1)
        if gap < 0.24 * size * 100 / 72:
            ok = False
            break
    if ok:
        break
    size -= 0.2
probe.remove()
for line, end, yy in zip(CAPTION_LINES, LINE_END, LINE_Y):
    words = split_words(line)
    objs = []
    for w in words:
        wo = []
        for p, b in w:
            t = fig.text(0, fy(yy), p, fontsize=size, fontweight="bold" if b else "normal", family=CAP_FONT,
                         color=CAP_COLOR, ha="left", va="center")
            wo.append((t, t.get_window_extent(renderer).width))
        objs.append(wo)
    tot = sum(wd for wo in objs for _, wd in wo)
    gap = (end - 41 - tot) / (len(objs) - 1)
    x = 41.0
    for wo in objs:
        for t, wd in wo:
            t.set_x(x / W)
            x += wd
        x += gap

fig.savefig("out.png", dpi=100, facecolor="white")
